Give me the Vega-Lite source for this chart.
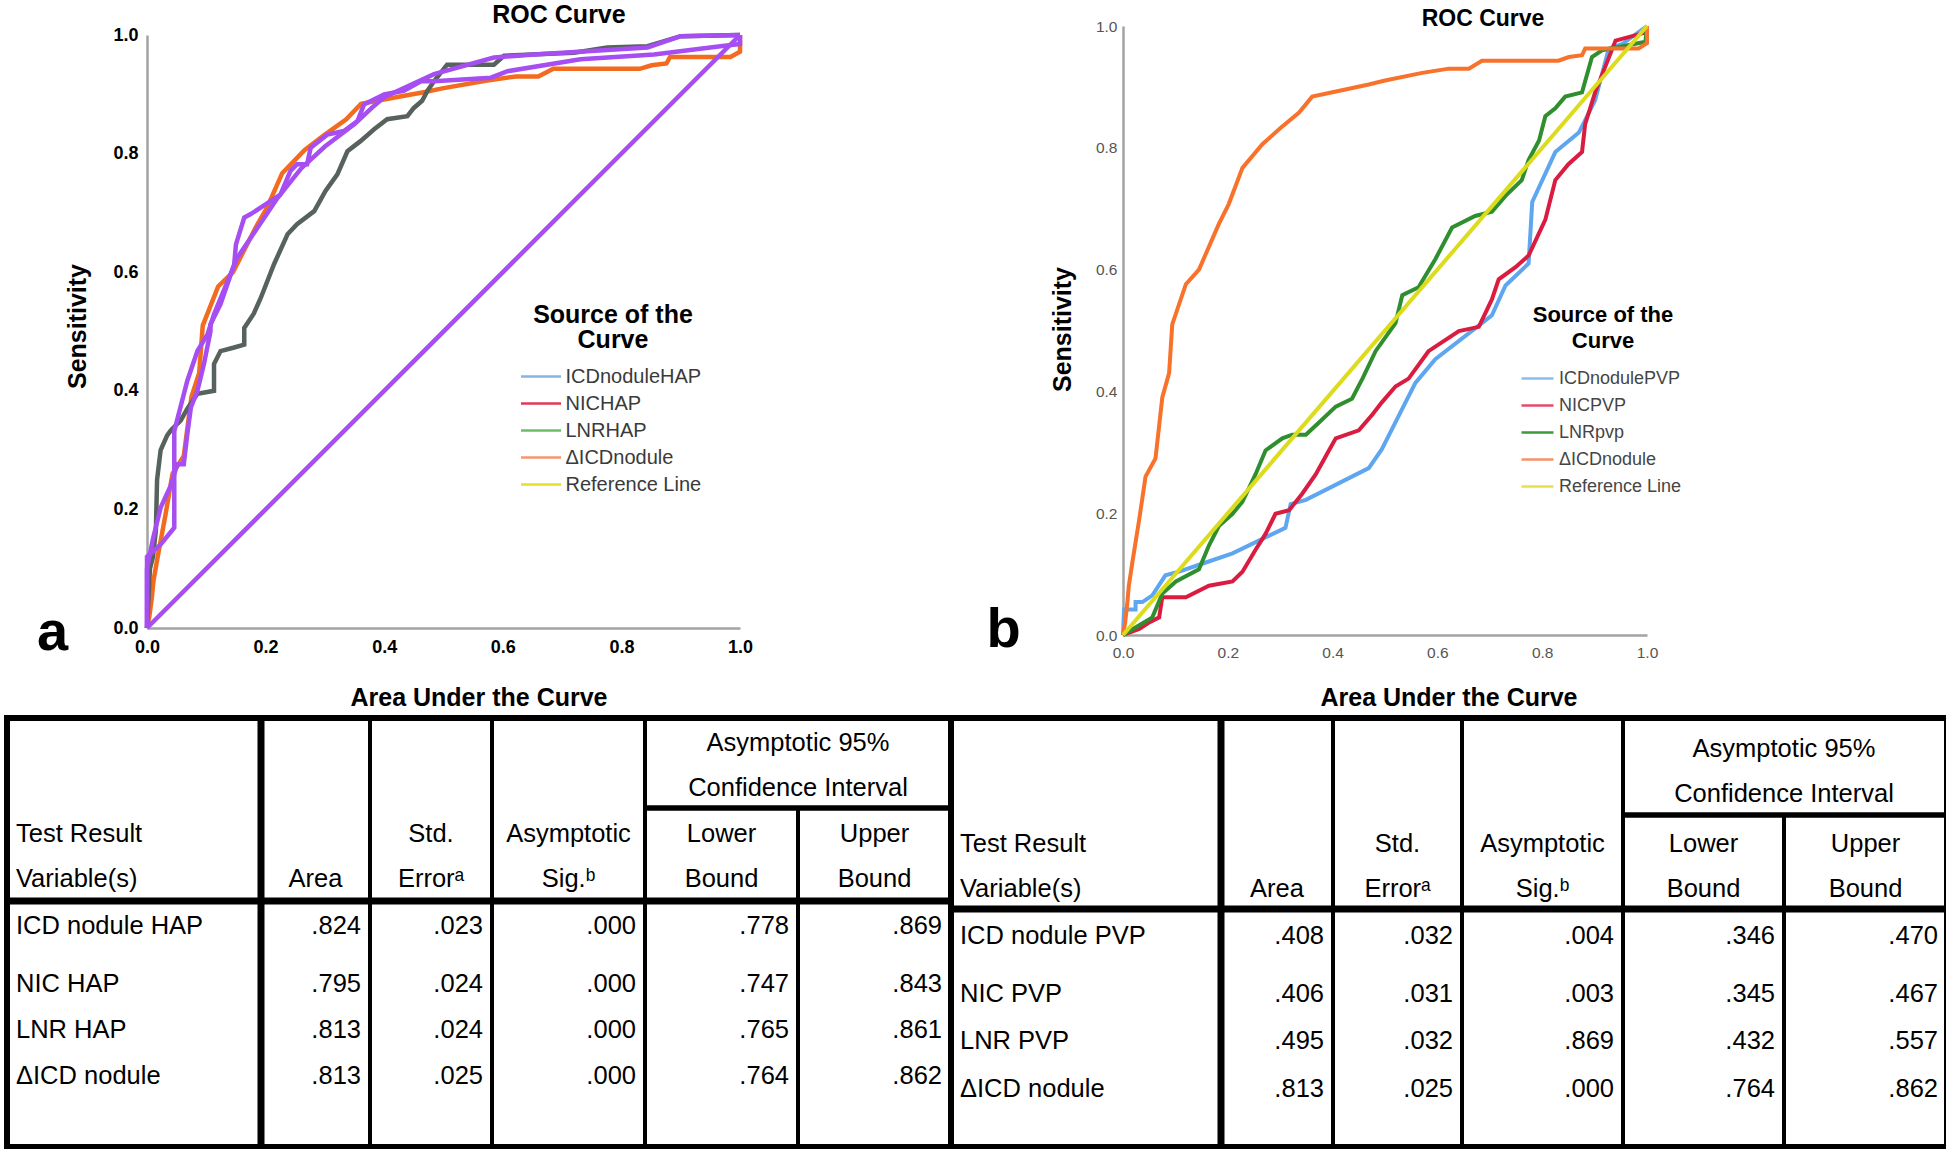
{
  "$schema": "https://vega.github.io/schema/vega-lite/v6.json",
  "padding": {"top": 3, "left": 0, "right": 0, "bottom": 0},
  "background": "white",
  "columns": 2,
  "bounds": "flush",
  "align": "each",
  "spacing": {"row": 83, "column": 0},
  "resolve": {"scale": {"color": "independent", "stroke": "independent", "strokeWidth": "independent"}, "legend": {"color": "independent", "stroke": "independent", "strokeWidth": "independent"}},
  "config": {
    "view": {"stroke": null},
    "font": "Liberation Sans",
    "axis": {"grid": false, "ticks": false, "domainColor": "#a3a3a3", "domainWidth": 2.5, "labelFont": "Liberation Sans", "titleFont": "Liberation Sans", "labelFlush": false, "labelOverlap": false}
  },
  "datasets": {
    "rocA": [
      {"curve": "ΔICDnodule", "fpr": 0, "tpr": 0}, {"curve": "ΔICDnodule", "fpr": 0.004, "tpr": 0.02}, {"curve": "ΔICDnodule", "fpr": 0.008, "tpr": 0.05}, {"curve": "ΔICDnodule", "fpr": 0.011, "tpr": 0.08}, {"curve": "ΔICDnodule", "fpr": 0.018, "tpr": 0.12}, {"curve": "ΔICDnodule", "fpr": 0.031, "tpr": 0.19}, {"curve": "ΔICDnodule", "fpr": 0.043, "tpr": 0.26}, {"curve": "ΔICDnodule", "fpr": 0.062, "tpr": 0.29}, {"curve": "ΔICDnodule", "fpr": 0.075, "tpr": 0.39}, {"curve": "ΔICDnodule", "fpr": 0.088, "tpr": 0.43}, {"curve": "ΔICDnodule", "fpr": 0.094, "tpr": 0.51}, {"curve": "ΔICDnodule", "fpr": 0.12, "tpr": 0.576}, {"curve": "ΔICDnodule", "fpr": 0.145, "tpr": 0.6}, {"curve": "ΔICDnodule", "fpr": 0.183, "tpr": 0.675}, {"curve": "ΔICDnodule", "fpr": 0.202, "tpr": 0.708}, {"curve": "ΔICDnodule", "fpr": 0.228, "tpr": 0.767}, {"curve": "ΔICDnodule", "fpr": 0.266, "tpr": 0.806}, {"curve": "ΔICDnodule", "fpr": 0.3, "tpr": 0.832}, {"curve": "ΔICDnodule", "fpr": 0.336, "tpr": 0.858}, {"curve": "ΔICDnodule", "fpr": 0.361, "tpr": 0.884}, {"curve": "ΔICDnodule", "fpr": 0.42, "tpr": 0.895}, {"curve": "ΔICDnodule", "fpr": 0.469, "tpr": 0.904}, {"curve": "ΔICDnodule", "fpr": 0.498, "tpr": 0.91}, {"curve": "ΔICDnodule", "fpr": 0.571, "tpr": 0.923}, {"curve": "ΔICDnodule", "fpr": 0.622, "tpr": 0.93}, {"curve": "ΔICDnodule", "fpr": 0.66, "tpr": 0.93}, {"curve": "ΔICDnodule", "fpr": 0.685, "tpr": 0.943}, {"curve": "ΔICDnodule", "fpr": 0.831, "tpr": 0.943}, {"curve": "ΔICDnodule", "fpr": 0.851, "tpr": 0.949}, {"curve": "ΔICDnodule", "fpr": 0.876, "tpr": 0.952}, {"curve": "ΔICDnodule", "fpr": 0.882, "tpr": 0.963}, {"curve": "ΔICDnodule", "fpr": 0.984, "tpr": 0.963}, {"curve": "ΔICDnodule", "fpr": 1, "tpr": 0.972}, {"curve": "ΔICDnodule", "fpr": 1, "tpr": 1},
      {"curve": "LNRHAP", "fpr": 0, "tpr": 0}, {"curve": "LNRHAP", "fpr": 0.005, "tpr": 0.1}, {"curve": "LNRHAP", "fpr": 0.01, "tpr": 0.12}, {"curve": "LNRHAP", "fpr": 0.015, "tpr": 0.165}, {"curve": "LNRHAP", "fpr": 0.017, "tpr": 0.25}, {"curve": "LNRHAP", "fpr": 0.023, "tpr": 0.3}, {"curve": "LNRHAP", "fpr": 0.034, "tpr": 0.325}, {"curve": "LNRHAP", "fpr": 0.04, "tpr": 0.333}, {"curve": "LNRHAP", "fpr": 0.057, "tpr": 0.35}, {"curve": "LNRHAP", "fpr": 0.068, "tpr": 0.37}, {"curve": "LNRHAP", "fpr": 0.085, "tpr": 0.395}, {"curve": "LNRHAP", "fpr": 0.113, "tpr": 0.4}, {"curve": "LNRHAP", "fpr": 0.113, "tpr": 0.445}, {"curve": "LNRHAP", "fpr": 0.124, "tpr": 0.467}, {"curve": "LNRHAP", "fpr": 0.147, "tpr": 0.473}, {"curve": "LNRHAP", "fpr": 0.164, "tpr": 0.478}, {"curve": "LNRHAP", "fpr": 0.164, "tpr": 0.506}, {"curve": "LNRHAP", "fpr": 0.18, "tpr": 0.53}, {"curve": "LNRHAP", "fpr": 0.192, "tpr": 0.557}, {"curve": "LNRHAP", "fpr": 0.214, "tpr": 0.613}, {"curve": "LNRHAP", "fpr": 0.237, "tpr": 0.664}, {"curve": "LNRHAP", "fpr": 0.253, "tpr": 0.681}, {"curve": "LNRHAP", "fpr": 0.282, "tpr": 0.703}, {"curve": "LNRHAP", "fpr": 0.301, "tpr": 0.737}, {"curve": "LNRHAP", "fpr": 0.321, "tpr": 0.765}, {"curve": "LNRHAP", "fpr": 0.338, "tpr": 0.804}, {"curve": "LNRHAP", "fpr": 0.36, "tpr": 0.821}, {"curve": "LNRHAP", "fpr": 0.383, "tpr": 0.841}, {"curve": "LNRHAP", "fpr": 0.405, "tpr": 0.858}, {"curve": "LNRHAP", "fpr": 0.439, "tpr": 0.863}, {"curve": "LNRHAP", "fpr": 0.45, "tpr": 0.877}, {"curve": "LNRHAP", "fpr": 0.464, "tpr": 0.889}, {"curve": "LNRHAP", "fpr": 0.473, "tpr": 0.906}, {"curve": "LNRHAP", "fpr": 0.484, "tpr": 0.922}, {"curve": "LNRHAP", "fpr": 0.506, "tpr": 0.95}, {"curve": "LNRHAP", "fpr": 0.585, "tpr": 0.95}, {"curve": "LNRHAP", "fpr": 0.602, "tpr": 0.965}, {"curve": "LNRHAP", "fpr": 0.72, "tpr": 0.97}, {"curve": "LNRHAP", "fpr": 0.776, "tpr": 0.979}, {"curve": "LNRHAP", "fpr": 0.844, "tpr": 0.981}, {"curve": "LNRHAP", "fpr": 0.9, "tpr": 0.998}, {"curve": "LNRHAP", "fpr": 1, "tpr": 1},
      {"curve": "NICHAP", "fpr": 0, "tpr": 0}, {"curve": "NICHAP", "fpr": 0, "tpr": 0.1}, {"curve": "NICHAP", "fpr": 0.01, "tpr": 0.15}, {"curve": "NICHAP", "fpr": 0.023, "tpr": 0.203}, {"curve": "NICHAP", "fpr": 0.04, "tpr": 0.24}, {"curve": "NICHAP", "fpr": 0.051, "tpr": 0.276}, {"curve": "NICHAP", "fpr": 0.062, "tpr": 0.276}, {"curve": "NICHAP", "fpr": 0.068, "tpr": 0.327}, {"curve": "NICHAP", "fpr": 0.074, "tpr": 0.372}, {"curve": "NICHAP", "fpr": 0.085, "tpr": 0.4}, {"curve": "NICHAP", "fpr": 0.096, "tpr": 0.445}, {"curve": "NICHAP", "fpr": 0.107, "tpr": 0.5}, {"curve": "NICHAP", "fpr": 0.107, "tpr": 0.512}, {"curve": "NICHAP", "fpr": 0.124, "tpr": 0.546}, {"curve": "NICHAP", "fpr": 0.147, "tpr": 0.613}, {"curve": "NICHAP", "fpr": 0.15, "tpr": 0.647}, {"curve": "NICHAP", "fpr": 0.164, "tpr": 0.692}, {"curve": "NICHAP", "fpr": 0.175, "tpr": 0.698}, {"curve": "NICHAP", "fpr": 0.225, "tpr": 0.731}, {"curve": "NICHAP", "fpr": 0.242, "tpr": 0.771}, {"curve": "NICHAP", "fpr": 0.253, "tpr": 0.782}, {"curve": "NICHAP", "fpr": 0.27, "tpr": 0.782}, {"curve": "NICHAP", "fpr": 0.276, "tpr": 0.81}, {"curve": "NICHAP", "fpr": 0.304, "tpr": 0.832}, {"curve": "NICHAP", "fpr": 0.332, "tpr": 0.838}, {"curve": "NICHAP", "fpr": 0.355, "tpr": 0.855}, {"curve": "NICHAP", "fpr": 0.366, "tpr": 0.883}, {"curve": "NICHAP", "fpr": 0.4, "tpr": 0.9}, {"curve": "NICHAP", "fpr": 0.433, "tpr": 0.906}, {"curve": "NICHAP", "fpr": 0.462, "tpr": 0.922}, {"curve": "NICHAP", "fpr": 0.484, "tpr": 0.922}, {"curve": "NICHAP", "fpr": 0.58, "tpr": 0.928}, {"curve": "NICHAP", "fpr": 0.608, "tpr": 0.939}, {"curve": "NICHAP", "fpr": 0.731, "tpr": 0.959}, {"curve": "NICHAP", "fpr": 0.855, "tpr": 0.967}, {"curve": "NICHAP", "fpr": 0.967, "tpr": 0.981}, {"curve": "NICHAP", "fpr": 1, "tpr": 0.985}, {"curve": "NICHAP", "fpr": 1, "tpr": 1},
      {"curve": "ICDnoduleHAP", "fpr": 0, "tpr": 0}, {"curve": "ICDnoduleHAP", "fpr": 0, "tpr": 0.12}, {"curve": "ICDnoduleHAP", "fpr": 0.023, "tpr": 0.141}, {"curve": "ICDnoduleHAP", "fpr": 0.046, "tpr": 0.169}, {"curve": "ICDnoduleHAP", "fpr": 0.046, "tpr": 0.332}, {"curve": "ICDnoduleHAP", "fpr": 0.068, "tpr": 0.417}, {"curve": "ICDnoduleHAP", "fpr": 0.085, "tpr": 0.467}, {"curve": "ICDnoduleHAP", "fpr": 0.102, "tpr": 0.495}, {"curve": "ICDnoduleHAP", "fpr": 0.113, "tpr": 0.529}, {"curve": "ICDnoduleHAP", "fpr": 0.152, "tpr": 0.624}, {"curve": "ICDnoduleHAP", "fpr": 0.22, "tpr": 0.725}, {"curve": "ICDnoduleHAP", "fpr": 0.26, "tpr": 0.775}, {"curve": "ICDnoduleHAP", "fpr": 0.3, "tpr": 0.812}, {"curve": "ICDnoduleHAP", "fpr": 0.35, "tpr": 0.85}, {"curve": "ICDnoduleHAP", "fpr": 0.38, "tpr": 0.878}, {"curve": "ICDnoduleHAP", "fpr": 0.4, "tpr": 0.895}, {"curve": "ICDnoduleHAP", "fpr": 0.484, "tpr": 0.934}, {"curve": "ICDnoduleHAP", "fpr": 0.585, "tpr": 0.962}, {"curve": "ICDnoduleHAP", "fpr": 0.653, "tpr": 0.967}, {"curve": "ICDnoduleHAP", "fpr": 0.844, "tpr": 0.979}, {"curve": "ICDnoduleHAP", "fpr": 0.9, "tpr": 0.998}, {"curve": "ICDnoduleHAP", "fpr": 1, "tpr": 1},
      {"curve": "Reference Line", "fpr": 0, "tpr": 0}, {"curve": "Reference Line", "fpr": 1, "tpr": 1}
    ],
    "rocB": [
      {"curve": "ICDnodulePVP", "fpr": 0, "tpr": 0}, {"curve": "ICDnodulePVP", "fpr": 0.002, "tpr": 0.042}, {"curve": "ICDnodulePVP", "fpr": 0.024, "tpr": 0.042}, {"curve": "ICDnodulePVP", "fpr": 0.024, "tpr": 0.054}, {"curve": "ICDnodulePVP", "fpr": 0.037, "tpr": 0.054}, {"curve": "ICDnodulePVP", "fpr": 0.056, "tpr": 0.065}, {"curve": "ICDnodulePVP", "fpr": 0.081, "tpr": 0.098}, {"curve": "ICDnodulePVP", "fpr": 0.107, "tpr": 0.104}, {"curve": "ICDnodulePVP", "fpr": 0.151, "tpr": 0.117}, {"curve": "ICDnodulePVP", "fpr": 0.209, "tpr": 0.134}, {"curve": "ICDnodulePVP", "fpr": 0.31, "tpr": 0.176}, {"curve": "ICDnodulePVP", "fpr": 0.32, "tpr": 0.215}, {"curve": "ICDnodulePVP", "fpr": 0.349, "tpr": 0.222}, {"curve": "ICDnodulePVP", "fpr": 0.469, "tpr": 0.274}, {"curve": "ICDnodulePVP", "fpr": 0.494, "tpr": 0.305}, {"curve": "ICDnodulePVP", "fpr": 0.558, "tpr": 0.414}, {"curve": "ICDnodulePVP", "fpr": 0.596, "tpr": 0.453}, {"curve": "ICDnodulePVP", "fpr": 0.685, "tpr": 0.512}, {"curve": "ICDnodulePVP", "fpr": 0.704, "tpr": 0.525}, {"curve": "ICDnodulePVP", "fpr": 0.73, "tpr": 0.574}, {"curve": "ICDnodulePVP", "fpr": 0.774, "tpr": 0.61}, {"curve": "ICDnodulePVP", "fpr": 0.781, "tpr": 0.711}, {"curve": "ICDnodulePVP", "fpr": 0.825, "tpr": 0.793}, {"curve": "ICDnodulePVP", "fpr": 0.87, "tpr": 0.825}, {"curve": "ICDnodulePVP", "fpr": 0.901, "tpr": 0.878}, {"curve": "ICDnodulePVP", "fpr": 0.927, "tpr": 0.963}, {"curve": "ICDnodulePVP", "fpr": 0.952, "tpr": 0.97}, {"curve": "ICDnodulePVP", "fpr": 1, "tpr": 1},
      {"curve": "NICPVP", "fpr": 0, "tpr": 0}, {"curve": "NICPVP", "fpr": 0.031, "tpr": 0.01}, {"curve": "NICPVP", "fpr": 0.049, "tpr": 0.02}, {"curve": "NICPVP", "fpr": 0.069, "tpr": 0.029}, {"curve": "NICPVP", "fpr": 0.075, "tpr": 0.062}, {"curve": "NICPVP", "fpr": 0.12, "tpr": 0.062}, {"curve": "NICPVP", "fpr": 0.164, "tpr": 0.081}, {"curve": "NICPVP", "fpr": 0.209, "tpr": 0.088}, {"curve": "NICPVP", "fpr": 0.228, "tpr": 0.104}, {"curve": "NICPVP", "fpr": 0.253, "tpr": 0.14}, {"curve": "NICPVP", "fpr": 0.272, "tpr": 0.166}, {"curve": "NICPVP", "fpr": 0.291, "tpr": 0.199}, {"curve": "NICPVP", "fpr": 0.317, "tpr": 0.205}, {"curve": "NICPVP", "fpr": 0.342, "tpr": 0.232}, {"curve": "NICPVP", "fpr": 0.368, "tpr": 0.264}, {"curve": "NICPVP", "fpr": 0.393, "tpr": 0.303}, {"curve": "NICPVP", "fpr": 0.406, "tpr": 0.323}, {"curve": "NICPVP", "fpr": 0.45, "tpr": 0.336}, {"curve": "NICPVP", "fpr": 0.476, "tpr": 0.362}, {"curve": "NICPVP", "fpr": 0.494, "tpr": 0.382}, {"curve": "NICPVP", "fpr": 0.52, "tpr": 0.408}, {"curve": "NICPVP", "fpr": 0.545, "tpr": 0.421}, {"curve": "NICPVP", "fpr": 0.583, "tpr": 0.466}, {"curve": "NICPVP", "fpr": 0.641, "tpr": 0.499}, {"curve": "NICPVP", "fpr": 0.679, "tpr": 0.506}, {"curve": "NICPVP", "fpr": 0.704, "tpr": 0.551}, {"curve": "NICPVP", "fpr": 0.717, "tpr": 0.584}, {"curve": "NICPVP", "fpr": 0.749, "tpr": 0.604}, {"curve": "NICPVP", "fpr": 0.774, "tpr": 0.623}, {"curve": "NICPVP", "fpr": 0.806, "tpr": 0.682}, {"curve": "NICPVP", "fpr": 0.825, "tpr": 0.747}, {"curve": "NICPVP", "fpr": 0.85, "tpr": 0.773}, {"curve": "NICPVP", "fpr": 0.876, "tpr": 0.793}, {"curve": "NICPVP", "fpr": 0.882, "tpr": 0.839}, {"curve": "NICPVP", "fpr": 0.901, "tpr": 0.891}, {"curve": "NICPVP", "fpr": 0.94, "tpr": 0.976}, {"curve": "NICPVP", "fpr": 1, "tpr": 0.99}, {"curve": "NICPVP", "fpr": 1, "tpr": 1},
      {"curve": "LNRpvp", "fpr": 0, "tpr": 0}, {"curve": "LNRpvp", "fpr": 0.031, "tpr": 0.016}, {"curve": "LNRpvp", "fpr": 0.056, "tpr": 0.029}, {"curve": "LNRpvp", "fpr": 0.075, "tpr": 0.068}, {"curve": "LNRpvp", "fpr": 0.101, "tpr": 0.088}, {"curve": "LNRpvp", "fpr": 0.145, "tpr": 0.108}, {"curve": "LNRpvp", "fpr": 0.164, "tpr": 0.147}, {"curve": "LNRpvp", "fpr": 0.183, "tpr": 0.179}, {"curve": "LNRpvp", "fpr": 0.209, "tpr": 0.199}, {"curve": "LNRpvp", "fpr": 0.228, "tpr": 0.219}, {"curve": "LNRpvp", "fpr": 0.253, "tpr": 0.264}, {"curve": "LNRpvp", "fpr": 0.272, "tpr": 0.303}, {"curve": "LNRpvp", "fpr": 0.304, "tpr": 0.323}, {"curve": "LNRpvp", "fpr": 0.323, "tpr": 0.329}, {"curve": "LNRpvp", "fpr": 0.349, "tpr": 0.329}, {"curve": "LNRpvp", "fpr": 0.374, "tpr": 0.349}, {"curve": "LNRpvp", "fpr": 0.406, "tpr": 0.375}, {"curve": "LNRpvp", "fpr": 0.437, "tpr": 0.388}, {"curve": "LNRpvp", "fpr": 0.457, "tpr": 0.421}, {"curve": "LNRpvp", "fpr": 0.482, "tpr": 0.466}, {"curve": "LNRpvp", "fpr": 0.52, "tpr": 0.512}, {"curve": "LNRpvp", "fpr": 0.533, "tpr": 0.558}, {"curve": "LNRpvp", "fpr": 0.564, "tpr": 0.571}, {"curve": "LNRpvp", "fpr": 0.596, "tpr": 0.617}, {"curve": "LNRpvp", "fpr": 0.628, "tpr": 0.669}, {"curve": "LNRpvp", "fpr": 0.672, "tpr": 0.688}, {"curve": "LNRpvp", "fpr": 0.704, "tpr": 0.695}, {"curve": "LNRpvp", "fpr": 0.73, "tpr": 0.721}, {"curve": "LNRpvp", "fpr": 0.761, "tpr": 0.747}, {"curve": "LNRpvp", "fpr": 0.774, "tpr": 0.78}, {"curve": "LNRpvp", "fpr": 0.794, "tpr": 0.812}, {"curve": "LNRpvp", "fpr": 0.806, "tpr": 0.852}, {"curve": "LNRpvp", "fpr": 0.825, "tpr": 0.865}, {"curve": "LNRpvp", "fpr": 0.844, "tpr": 0.884}, {"curve": "LNRpvp", "fpr": 0.876, "tpr": 0.891}, {"curve": "LNRpvp", "fpr": 0.895, "tpr": 0.949}, {"curve": "LNRpvp", "fpr": 0.914, "tpr": 0.96}, {"curve": "LNRpvp", "fpr": 0.997, "tpr": 0.974}, {"curve": "LNRpvp", "fpr": 1, "tpr": 1},
      {"curve": "ΔICDnodule", "fpr": 0, "tpr": 0}, {"curve": "ΔICDnodule", "fpr": 0.004, "tpr": 0.02}, {"curve": "ΔICDnodule", "fpr": 0.008, "tpr": 0.05}, {"curve": "ΔICDnodule", "fpr": 0.011, "tpr": 0.08}, {"curve": "ΔICDnodule", "fpr": 0.018, "tpr": 0.12}, {"curve": "ΔICDnodule", "fpr": 0.031, "tpr": 0.19}, {"curve": "ΔICDnodule", "fpr": 0.043, "tpr": 0.26}, {"curve": "ΔICDnodule", "fpr": 0.062, "tpr": 0.29}, {"curve": "ΔICDnodule", "fpr": 0.075, "tpr": 0.39}, {"curve": "ΔICDnodule", "fpr": 0.088, "tpr": 0.43}, {"curve": "ΔICDnodule", "fpr": 0.094, "tpr": 0.51}, {"curve": "ΔICDnodule", "fpr": 0.12, "tpr": 0.576}, {"curve": "ΔICDnodule", "fpr": 0.145, "tpr": 0.6}, {"curve": "ΔICDnodule", "fpr": 0.183, "tpr": 0.675}, {"curve": "ΔICDnodule", "fpr": 0.202, "tpr": 0.708}, {"curve": "ΔICDnodule", "fpr": 0.228, "tpr": 0.767}, {"curve": "ΔICDnodule", "fpr": 0.266, "tpr": 0.806}, {"curve": "ΔICDnodule", "fpr": 0.3, "tpr": 0.832}, {"curve": "ΔICDnodule", "fpr": 0.336, "tpr": 0.858}, {"curve": "ΔICDnodule", "fpr": 0.361, "tpr": 0.884}, {"curve": "ΔICDnodule", "fpr": 0.42, "tpr": 0.895}, {"curve": "ΔICDnodule", "fpr": 0.469, "tpr": 0.904}, {"curve": "ΔICDnodule", "fpr": 0.498, "tpr": 0.91}, {"curve": "ΔICDnodule", "fpr": 0.571, "tpr": 0.923}, {"curve": "ΔICDnodule", "fpr": 0.622, "tpr": 0.93}, {"curve": "ΔICDnodule", "fpr": 0.66, "tpr": 0.93}, {"curve": "ΔICDnodule", "fpr": 0.685, "tpr": 0.943}, {"curve": "ΔICDnodule", "fpr": 0.831, "tpr": 0.943}, {"curve": "ΔICDnodule", "fpr": 0.851, "tpr": 0.949}, {"curve": "ΔICDnodule", "fpr": 0.876, "tpr": 0.952}, {"curve": "ΔICDnodule", "fpr": 0.882, "tpr": 0.963}, {"curve": "ΔICDnodule", "fpr": 0.984, "tpr": 0.963}, {"curve": "ΔICDnodule", "fpr": 1, "tpr": 0.972}, {"curve": "ΔICDnodule", "fpr": 1, "tpr": 1},
      {"curve": "Reference Line", "fpr": 0, "tpr": 0}, {"curve": "Reference Line", "fpr": 1, "tpr": 1}
    ],
    "legendA": [{"item": "ICDnoduleHAP"}, {"item": "NICHAP"}, {"item": "LNRHAP"}, {"item": "ΔICDnodule"}, {"item": "Reference Line"}],
    "legendB": [{"item": "ICDnodulePVP"}, {"item": "NICPVP"}, {"item": "LNRpvp"}, {"item": "ΔICDnodule"}, {"item": "Reference Line"}],
    "gridA": [
      {"c0": 1, "c1": 1, "r0": 0, "r1": 9, "w": "thick"},
      {"c0": 2, "c1": 2, "r0": 0, "r1": 9, "w": "thin"},
      {"c0": 3, "c1": 3, "r0": 0, "r1": 9, "w": "thin"},
      {"c0": 4, "c1": 4, "r0": 0, "r1": 9, "w": "thin"},
      {"c0": 5, "c1": 5, "r0": 2.5, "r1": 9, "w": "thin"},
      {"c0": 4, "c1": 6, "r0": 2.5, "r1": 2.5, "w": "mid"},
      {"c0": 0, "c1": 6, "r0": 4.5, "r1": 4.5, "w": "thick"}
    ],
    "cellsA": [
      {"kind": "header", "c": 5, "r": 1, "text": "Asymptotic 95%"},
      {"kind": "header", "c": 5, "r": 2, "text": "Confidence Interval"},
      {"kind": "label", "c": 0, "r": 3, "text": "Test Result"},
      {"kind": "label", "c": 0, "r": 4, "text": "Variable(s)"},
      {"kind": "header", "c": 1.5, "r": 4, "text": "Area"},
      {"kind": "header", "c": 2.5, "r": 3, "text": "Std."},
      {"kind": "header", "c": 2.5, "r": 4, "text": "Errorᵃ"},
      {"kind": "header", "c": 3.5, "r": 3, "text": "Asymptotic"},
      {"kind": "header", "c": 3.5, "r": 4, "text": "Sig.ᵇ"},
      {"kind": "header", "c": 4.5, "r": 3, "text": "Lower"},
      {"kind": "header", "c": 4.5, "r": 4, "text": "Bound"},
      {"kind": "header", "c": 5.5, "r": 3, "text": "Upper"},
      {"kind": "header", "c": 5.5, "r": 4, "text": "Bound"},
      {"kind": "label", "c": 0, "r": 5, "text": "ICD nodule HAP"},
      {"kind": "value", "c": 2, "r": 5, "text": ".824"}, {"kind": "value", "c": 3, "r": 5, "text": ".023"}, {"kind": "value", "c": 4, "r": 5, "text": ".000"}, {"kind": "value", "c": 5, "r": 5, "text": ".778"}, {"kind": "value", "c": 6, "r": 5, "text": ".869"},
      {"kind": "label", "c": 0, "r": 6, "text": "NIC HAP"},
      {"kind": "value", "c": 2, "r": 6, "text": ".795"}, {"kind": "value", "c": 3, "r": 6, "text": ".024"}, {"kind": "value", "c": 4, "r": 6, "text": ".000"}, {"kind": "value", "c": 5, "r": 6, "text": ".747"}, {"kind": "value", "c": 6, "r": 6, "text": ".843"},
      {"kind": "label", "c": 0, "r": 7, "text": "LNR HAP"},
      {"kind": "value", "c": 2, "r": 7, "text": ".813"}, {"kind": "value", "c": 3, "r": 7, "text": ".024"}, {"kind": "value", "c": 4, "r": 7, "text": ".000"}, {"kind": "value", "c": 5, "r": 7, "text": ".765"}, {"kind": "value", "c": 6, "r": 7, "text": ".861"},
      {"kind": "label", "c": 0, "r": 8, "text": "ΔICD nodule"},
      {"kind": "value", "c": 2, "r": 8, "text": ".813"}, {"kind": "value", "c": 3, "r": 8, "text": ".025"}, {"kind": "value", "c": 4, "r": 8, "text": ".000"}, {"kind": "value", "c": 5, "r": 8, "text": ".764"}, {"kind": "value", "c": 6, "r": 8, "text": ".862"}
    ],
    "cellsB": [
      {"kind": "header", "c": 5, "r": 1, "text": "Asymptotic 95%"},
      {"kind": "header", "c": 5, "r": 2, "text": "Confidence Interval"},
      {"kind": "label", "c": 0, "r": 3, "text": "Test Result"},
      {"kind": "label", "c": 0, "r": 4, "text": "Variable(s)"},
      {"kind": "header", "c": 1.5, "r": 4, "text": "Area"},
      {"kind": "header", "c": 2.5, "r": 3, "text": "Std."},
      {"kind": "header", "c": 2.5, "r": 4, "text": "Errorᵃ"},
      {"kind": "header", "c": 3.5, "r": 3, "text": "Asymptotic"},
      {"kind": "header", "c": 3.5, "r": 4, "text": "Sig.ᵇ"},
      {"kind": "header", "c": 4.5, "r": 3, "text": "Lower"},
      {"kind": "header", "c": 4.5, "r": 4, "text": "Bound"},
      {"kind": "header", "c": 5.5, "r": 3, "text": "Upper"},
      {"kind": "header", "c": 5.5, "r": 4, "text": "Bound"},
      {"kind": "label", "c": 0, "r": 5, "text": "ICD nodule PVP"},
      {"kind": "value", "c": 2, "r": 5, "text": ".408"}, {"kind": "value", "c": 3, "r": 5, "text": ".032"}, {"kind": "value", "c": 4, "r": 5, "text": ".004"}, {"kind": "value", "c": 5, "r": 5, "text": ".346"}, {"kind": "value", "c": 6, "r": 5, "text": ".470"},
      {"kind": "label", "c": 0, "r": 6, "text": "NIC PVP"},
      {"kind": "value", "c": 2, "r": 6, "text": ".406"}, {"kind": "value", "c": 3, "r": 6, "text": ".031"}, {"kind": "value", "c": 4, "r": 6, "text": ".003"}, {"kind": "value", "c": 5, "r": 6, "text": ".345"}, {"kind": "value", "c": 6, "r": 6, "text": ".467"},
      {"kind": "label", "c": 0, "r": 7, "text": "LNR PVP"},
      {"kind": "value", "c": 2, "r": 7, "text": ".495"}, {"kind": "value", "c": 3, "r": 7, "text": ".032"}, {"kind": "value", "c": 4, "r": 7, "text": ".869"}, {"kind": "value", "c": 5, "r": 7, "text": ".432"}, {"kind": "value", "c": 6, "r": 7, "text": ".557"},
      {"kind": "label", "c": 0, "r": 8, "text": "ΔICD nodule"},
      {"kind": "value", "c": 2, "r": 8, "text": ".813"}, {"kind": "value", "c": 3, "r": 8, "text": ".025"}, {"kind": "value", "c": 4, "r": 8, "text": ".000"}, {"kind": "value", "c": 5, "r": 8, "text": ".764"}, {"kind": "value", "c": 6, "r": 8, "text": ".862"}
    ]
  },
  "concat": [
    {
      "width": 733, "height": 609,
      "title": {"text": "ROC Curve", "anchor": "middle", "frame": "group", "dx": 185.5, "offset": -2, "fontSize": 25, "fontWeight": "bold", "font": "Liberation Sans", "color": "black"},
      "layer": [
        {
          "data": {"name": "rocA"},
          "mark": {"type": "line", "strokeWidth": 4.5},
          "encoding": {
            "x": {"field": "fpr", "type": "quantitative", "scale": {"domain": [0, 1], "range": [140, 733], "nice": false, "zero": false},
                  "axis": {"values": [0, 0.2, 0.4, 0.6, 0.8, 1], "format": ".1f", "offset": -7, "labelFontSize": 18, "labelFontWeight": "bold", "labelColor": "black", "labelPadding": 10,
                           "title": "a", "titleFontSize": 56, "titleFontWeight": "bold", "titleColor": "black", "titleX": 45, "titleY": 21, "titleAlign": "center", "titleBaseline": "alphabetic"}},
            "y": {"field": "tpr", "type": "quantitative", "scale": {"domain": [0, 1], "range": [602, 9], "nice": false, "zero": false},
                  "axis": {"values": [0, 0.2, 0.4, 0.6, 0.8, 1], "format": ".1f", "offset": -140, "labelFontSize": 18, "labelFontWeight": "bold", "labelColor": "black", "labelPadding": 9,
                           "title": "Sensitivity", "titleFontSize": 25, "titleFontWeight": "bold", "titleColor": "black", "titleX": -70, "titleY": 300, "titleAngle": 270, "titleAlign": "center", "titleBaseline": "middle"}},
            "color": {"field": "curve", "type": "nominal", "legend": null,
                      "scale": {"domain": ["ΔICDnodule", "LNRHAP", "NICHAP", "ICDnoduleHAP", "Reference Line"], "range": ["#f26b1f", "#56625b", "#a64ef2", "#a64ef2", "#a64ef2"]}},
            "order": {"value": null}
          }
        },
        {
          "data": {"name": "legendA"},
          "mark": {"type": "line"},
          "encoding": {
            "x": {"datum": 0, "type": "quantitative"},
            "y": {"datum": 0, "type": "quantitative"},
            "stroke": {"field": "item", "type": "nominal",
                       "scale": {"domain": ["ICDnoduleHAP", "NICHAP", "LNRHAP", "ΔICDnodule", "Reference Line"], "range": ["#84b4e8", "#e23a52", "#6cbc6c", "#f5966e", "#e6e020"]},
                       "legend": {"orient": "none", "legendX": 518, "legendY": 277, "padding": 0, "offset": 0,
                                  "title": ["Source of the", "Curve"], "titleFont": "Liberation Sans", "titleFontSize": 25, "titleFontWeight": "bold", "titleColor": "black", "titleAlign": "center", "titleAnchor": "middle", "titleLineHeight": 25, "titlePadding": 12,
                                  "labelFont": "Liberation Sans", "labelFontSize": 20, "labelColor": "#3a3a3a", "labelOffset": 13,
                                  "symbolType": "M-2,0L2,0", "symbolSize": 400, "symbolStrokeWidth": 2.5, "symbolOffset": 4.5, "rowPadding": 5}}
          }
        }
      ]
    },
    {
      "width": 696, "height": 609,
      "title": {"text": "ROC Curve", "anchor": "middle", "frame": "group", "dx": 184, "offset": -12.5, "fontSize": 23, "fontWeight": "bold", "font": "Liberation Sans", "color": "black"},
      "layer": [
        {
          "data": {"name": "rocB"},
          "mark": {"type": "line", "strokeWidth": 4},
          "encoding": {
            "x": {"field": "fpr", "type": "quantitative", "scale": {"domain": [0, 1], "range": [172, 696], "nice": false, "zero": false},
                  "axis": {"values": [0, 0.2, 0.4, 0.6, 0.8, 1], "format": ".1f", "labelFontSize": 15.5, "labelColor": "#555555", "labelPadding": 10,
                           "title": "b", "titleFontSize": 56, "titleFontWeight": "bold", "titleColor": "black", "titleX": 52, "titleY": 11, "titleAlign": "center", "titleBaseline": "alphabetic"}},
            "y": {"field": "tpr", "type": "quantitative", "scale": {"domain": [0, 1], "range": [609, 0], "nice": false, "zero": false},
                  "axis": {"values": [0, 0.2, 0.4, 0.6, 0.8, 1], "format": ".1f", "offset": -172, "labelFontSize": 15.5, "labelColor": "#555555", "labelPadding": 6,
                           "title": "Sensitivity", "titleFontSize": 25, "titleFontWeight": "bold", "titleColor": "black", "titleX": -61, "titleY": 303, "titleAngle": 270, "titleAlign": "center", "titleBaseline": "middle"}},
            "color": {"field": "curve", "type": "nominal", "legend": null,
                      "scale": {"domain": ["Reference Line", "ΔICDnodule", "LNRpvp", "NICPVP", "ICDnodulePVP"], "range": ["#dcdc1c", "#f8722c", "#2f8f2f", "#d91c40", "#5ea6ef"]}},
            "order": {"value": null}
          }
        },
        {
          "data": {"name": "legendB"},
          "mark": {"type": "line"},
          "encoding": {
            "x": {"datum": 0, "type": "quantitative"},
            "y": {"datum": 0, "type": "quantitative"},
            "stroke": {"field": "item", "type": "nominal",
                       "scale": {"domain": ["ICDnodulePVP", "NICPVP", "LNRpvp", "ΔICDnodule", "Reference Line"], "range": ["#8cbdf0", "#e34c6c", "#3c9a3c", "#f59266", "#e8e04a"]},
                       "legend": {"orient": "none", "legendX": 574, "legendY": 279, "padding": 0, "offset": 0,
                                  "title": ["Source of the", "Curve"], "titleFont": "Liberation Sans", "titleFontSize": 22, "titleFontWeight": "bold", "titleColor": "black", "titleAlign": "center", "titleAnchor": "middle", "titleLineHeight": 26, "titlePadding": 16,
                                  "labelFont": "Liberation Sans", "labelFontSize": 18, "labelColor": "#454545", "labelOffset": 12,
                                  "symbolType": "M-2,0L2,0", "symbolSize": 256, "symbolStrokeWidth": 2.5, "symbolOffset": 3, "rowPadding": 8}}
          }
        }
      ]
    },
    {
      "width": 944, "height": 429,
      "view": {"stroke": "black", "strokeWidth": 6},
      "title": {"text": "Area Under the Curve", "anchor": "middle", "frame": "group", "offset": 4, "fontSize": 25, "fontWeight": "bold", "font": "Liberation Sans", "color": "black"},
      "layer": [
        {
          "data": {"name": "gridA"},
          "mark": {"type": "rule", "color": "black"},
          "encoding": {
            "x": {"field": "c0", "type": "quantitative", "axis": null, "scale": {"domain": [0, 1, 2, 3, 4, 5, 6], "range": [0, 254, 363, 485, 638, 791, 944], "nice": false, "zero": false}},
            "x2": {"field": "c1"},
            "y": {"field": "r0", "type": "quantitative", "axis": null, "scale": {"domain": [0, 1, 2, 2.5, 3, 4, 4.5, 5, 6, 7, 8, 9], "range": [0, 25, 70, 90, 116, 161, 183, 208, 266, 312, 358, 429], "nice": false, "zero": false}},
            "y2": {"field": "r1"},
            "strokeWidth": {"field": "w", "type": "ordinal", "legend": null, "scale": {"domain": ["thick", "mid", "thin"], "range": [7, 4, 2.5]}}
          }
        },
        {
          "data": {"name": "cellsA"},
          "transform": [{"filter": "datum.kind === 'label'"}],
          "mark": {"type": "text", "align": "left", "baseline": "middle", "dx": 9, "fontSize": 25.5, "font": "Liberation Sans", "color": "black"},
          "encoding": {"x": {"field": "c", "type": "quantitative"}, "y": {"field": "r", "type": "quantitative"}, "text": {"field": "text"}}
        },
        {
          "data": {"name": "cellsA"},
          "transform": [{"filter": "datum.kind === 'value'"}],
          "mark": {"type": "text", "align": "right", "baseline": "middle", "dx": -9, "fontSize": 25.5, "font": "Liberation Sans", "color": "black"},
          "encoding": {"x": {"field": "c", "type": "quantitative"}, "y": {"field": "r", "type": "quantitative"}, "text": {"field": "text"}}
        },
        {
          "data": {"name": "cellsA"},
          "transform": [{"filter": "datum.kind === 'header'"}],
          "mark": {"type": "text", "align": "center", "baseline": "middle", "fontSize": 25.5, "font": "Liberation Sans", "color": "black"},
          "encoding": {"x": {"field": "c", "type": "quantitative"}, "y": {"field": "r", "type": "quantitative"}, "text": {"field": "text"}}
        }
      ]
    },
    {
      "width": 996, "height": 429,
      "view": {"stroke": "black", "strokeWidth": 6},
      "title": {"text": "Area Under the Curve", "anchor": "middle", "frame": "group", "offset": 4, "fontSize": 25, "fontWeight": "bold", "font": "Liberation Sans", "color": "black"},
      "layer": [
        {
          "data": {"name": "gridA"},
          "mark": {"type": "rule", "color": "black"},
          "encoding": {
            "x": {"field": "c0", "type": "quantitative", "axis": null, "scale": {"domain": [0, 1, 2, 3, 4, 5, 6], "range": [0, 270, 382, 511, 672, 833, 996], "nice": false, "zero": false}},
            "x2": {"field": "c1"},
            "y": {"field": "r0", "type": "quantitative", "axis": null, "scale": {"domain": [0, 1, 2, 2.5, 3, 4, 4.5, 5, 6, 7, 8, 9], "range": [0, 31, 76, 97, 126, 171, 191, 218, 276, 323, 371, 429], "nice": false, "zero": false}},
            "y2": {"field": "r1"},
            "strokeWidth": {"field": "w", "type": "ordinal", "legend": null, "scale": {"domain": ["thick", "mid", "thin"], "range": [7, 4, 2.5]}}
          }
        },
        {
          "data": {"name": "cellsB"},
          "transform": [{"filter": "datum.kind === 'label'"}],
          "mark": {"type": "text", "align": "left", "baseline": "middle", "dx": 9, "fontSize": 25.5, "font": "Liberation Sans", "color": "black"},
          "encoding": {"x": {"field": "c", "type": "quantitative"}, "y": {"field": "r", "type": "quantitative"}, "text": {"field": "text"}}
        },
        {
          "data": {"name": "cellsB"},
          "transform": [{"filter": "datum.kind === 'value'"}],
          "mark": {"type": "text", "align": "right", "baseline": "middle", "dx": -9, "fontSize": 25.5, "font": "Liberation Sans", "color": "black"},
          "encoding": {"x": {"field": "c", "type": "quantitative"}, "y": {"field": "r", "type": "quantitative"}, "text": {"field": "text"}}
        },
        {
          "data": {"name": "cellsB"},
          "transform": [{"filter": "datum.kind === 'header'"}],
          "mark": {"type": "text", "align": "center", "baseline": "middle", "fontSize": 25.5, "font": "Liberation Sans", "color": "black"},
          "encoding": {"x": {"field": "c", "type": "quantitative"}, "y": {"field": "r", "type": "quantitative"}, "text": {"field": "text"}}
        }
      ]
    }
  ]
}
